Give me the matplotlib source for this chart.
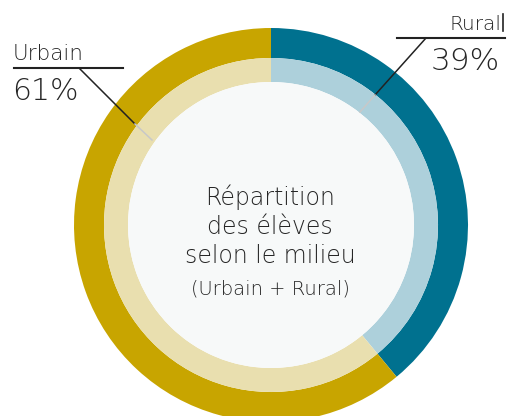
import matplotlib
matplotlib.use("Agg")
import matplotlib.pyplot as plt

# data
labels = ["Rural", "Urbain"]
values = [39, 61]
outer_colors = ["#00718F", "#C8A500"]
inner_colors = ["#ADD0DB", "#E9DFAF"]
center_lines = ["Répartition", "des élèves", "selon le milieu"]
center_note = "(Urbain + Rural)"

plt.rcParams["font.family"] = ["DejaVu Sans"]
FW = 200  # extra light

W, H = 507, 416
fig = plt.figure(figsize=(W / 100, H / 100), dpi=100)
ax = fig.add_axes([0, 0, 1, 1])
ax.set_xlim(0, W)
ax.set_ylim(0, H)
ax.set_aspect("equal")
ax.axis("off")

cx, cy = 271, H - 225

# outer ring
ax.pie(values, colors=outer_colors, startangle=90, counterclock=False,
       radius=197, center=(cx, cy), wedgeprops=dict(width=30, linewidth=0))
# inner ring
ax.pie(values, colors=inner_colors, startangle=90, counterclock=False,
       radius=167, center=(cx, cy), wedgeprops=dict(width=24, linewidth=0))
ax.add_patch(plt.Circle((cx, cy), 143, color="#F7F9F9", lw=0))
ax.set_xlim(0, W)
ax.set_ylim(0, H)


def py(y):
    return H - y


txt = "#262626"

# leader lines - Urbain
ax.plot([14, 123], [py(68), py(68)], color="#222222", lw=1.5)
ax.plot([79, 135], [py(68), py(124)], color="#222222", lw=1.1)
ax.plot([135, 152], [py(124), py(140)], color="#C8C8C8", lw=1.1)
ax.text(13, py(60), labels[1], fontsize=15.5, fontweight=FW, color=txt,
        ha="left", va="baseline")
ax.text(12, py(100), f"{values[1]}%", fontsize=21.5, fontweight=FW, color=txt,
        ha="left", va="baseline")

# leader lines - Rural
ax.plot([397, 505], [py(38), py(38)], color="#222222", lw=1.5)
ax.plot([426, 375], [py(38), py(95)], color="#222222", lw=1.1)
ax.plot([375, 360], [py(95), py(112)], color="#C8C8C8", lw=1.1)
ax.plot([503, 503], [py(14), py(31)], color="#222222", lw=1.2)
ax.text(501, py(30), labels[0], fontsize=14.5, fontweight=FW, color=txt,
        ha="right", va="baseline")
ax.text(500, py(70), f"{values[0]}%", fontsize=22.5, fontweight=FW, color=txt,
        ha="right", va="baseline")

# centre text
for i, line in enumerate(center_lines):
    ax.text(270, py(197 + i * 29.5), line, fontsize=17, fontweight=FW,
            color=txt, ha="center", va="center")
ax.text(270, py(289), center_note, fontsize=14, fontweight=FW,
        color=txt, ha="center", va="center")

fig.savefig("out.png", dpi=100)
